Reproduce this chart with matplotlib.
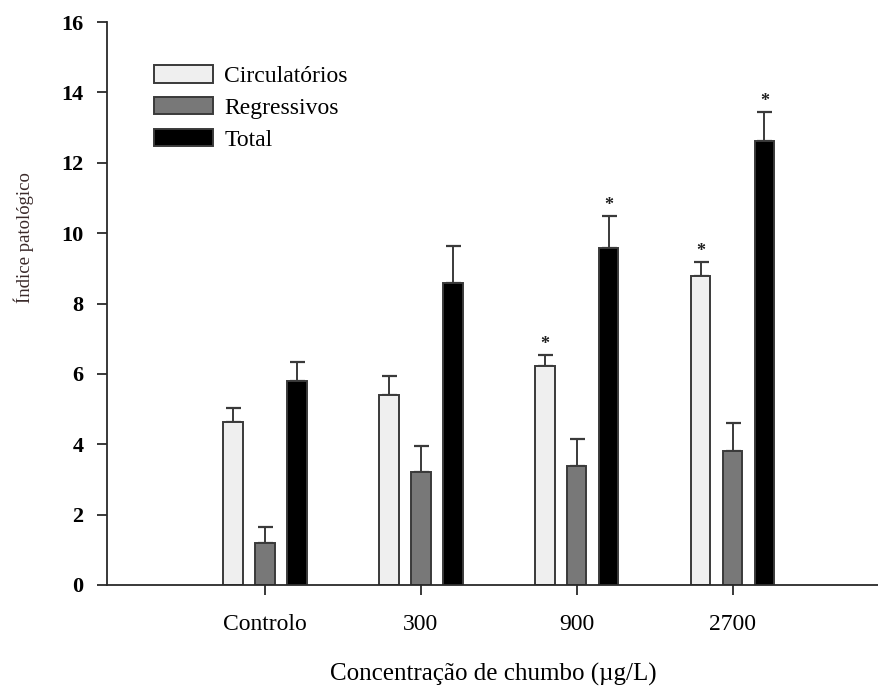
import numpy as np
import matplotlib
matplotlib.use("Agg")
import matplotlib.pyplot as plt

plt.rcParams["font.family"] = ["Liberation Serif", "DejaVu Serif"]

# data
groups = ["Controlo", "300", "900", "2700"]
series = ["Circulatórios", "Regressivos", "Total"]
circ = [4.62, 5.41, 6.21, 8.79]
circ_err = [0.41, 0.52, 0.33, 0.40]
reg = [1.18, 3.20, 3.39, 3.81]
reg_err = [0.48, 0.74, 0.76, 0.80]
total = [5.79, 8.58, 9.59, 12.62]
total_err = [0.56, 1.05, 0.90, 0.83]
circ_sig = [False, False, True, True]
reg_sig = [False, False, False, False]
total_sig = [False, False, True, True]

colors = ["#efefef", "#787878", "#000000"]

fig = plt.figure(figsize=(8.79, 6.86), dpi=100)
ax = fig.add_axes([107 / 879, 1 - 585 / 686, 1 - 107 / 879, (585 - 22) / 686])

x = np.arange(len(groups))
width = 0.125
offset = 0.205

for i, (vals, errs, sig, col, name) in enumerate(zip(
        [circ, reg, total], [circ_err, reg_err, total_err],
        [circ_sig, reg_sig, total_sig], colors, series)):
    pos = x + (i - 1) * offset
    ax.bar(pos, vals, width, color=col, edgecolor="#3a3a3a", linewidth=1.4,
           label=name, zorder=2)
    ax.errorbar(pos, vals, yerr=[np.zeros(len(vals)), errs], fmt="none",
                ecolor="#3a3a3a", elinewidth=1.4, capsize=5.4, capthick=1.6,
                zorder=1)
    for p, v, e, s in zip(pos, vals, errs, sig):
        if s:
            ax.annotate("*", (p, v + e), xytext=(0, 1), textcoords="offset points",
                        ha="center", va="bottom", fontsize=13, fontweight="bold",
                        color="#202020")

ax.set_xlim(-1.015, 3.94)
ax.set_ylim(0, 16)
ax.set_yticks(np.arange(0, 17, 2))
ax.set_xticks(x)
ax.set_xticklabels(groups, fontsize=17)
for lab in ax.get_yticklabels():
    lab.set_fontsize(16)
    lab.set_fontweight("bold")

ax.spines["top"].set_visible(False)
ax.spines["right"].set_visible(False)
for s in ["left", "bottom"]:
    ax.spines[s].set_linewidth(1.3)
    ax.spines[s].set_color("#2a2a2a")
ax.tick_params(axis="both", direction="out", length=7, width=1.3, color="#2a2a2a")
ax.tick_params(axis="x", pad=14)
ax.tick_params(axis="y", pad=10)

ax.set_ylabel("Índice patológico", fontsize=13.5, color="#3a2a2a")
ax.yaxis.set_label_coords(-0.094, 0.618)
ax.set_xlabel("Concentração de chumbo (µg/L)", fontsize=18, labelpad=20)

leg = ax.legend(loc="upper left", bbox_to_anchor=(0.048, 0.94), frameon=False,
                fontsize=17, handlelength=2.5, handleheight=0.75,
                handletextpad=0.5, labelspacing=0.42, borderaxespad=0)

fig.savefig("out.png", dpi=100)
